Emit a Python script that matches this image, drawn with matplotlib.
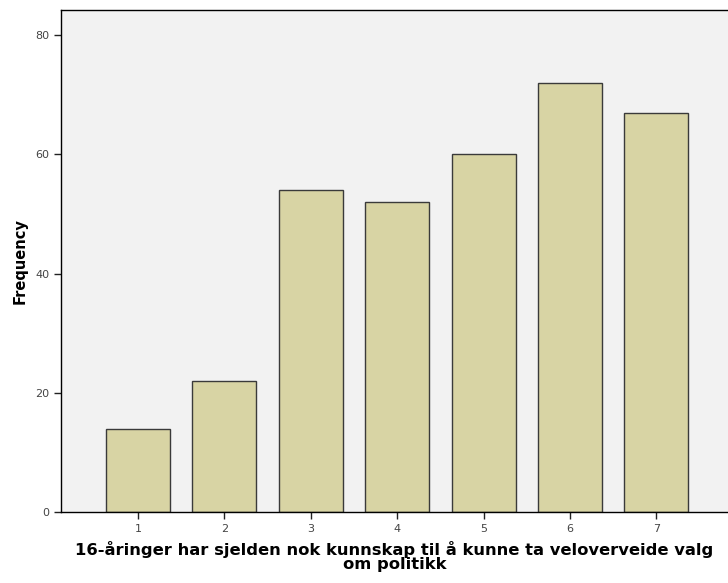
import matplotlib.pyplot as plt

categories = [1, 2, 3, 4, 5, 6, 7]
frequencies = [14, 22, 54, 52, 60, 72, 67]
y_ticks = [0, 20, 40, 60, 80]

fig = plt.figure(figsize=(7.28, 5.83), dpi=100)
ax = fig.add_axes([61 / 728, 71 / 583, 1 - 61 / 728, 502 / 583])
ax.set_facecolor('#f2f2f2')

ax.bar(categories, frequencies, width=0.74, color='#d8d4a4',
       edgecolor='#3a3a3a', linewidth=1.0, zorder=2)

ax.set_xlim(0.108, 7.83)
ax.set_ylim(0, 84.2)
ax.set_xticks(categories)
ax.set_yticks(y_ticks)
ax.tick_params(axis='both', direction='out', length=5, width=1,
               labelsize=8, colors='#222222', labelcolor='#444444')

for side in ['top', 'left', 'bottom']:
    ax.spines[side].set_color('black')
    ax.spines[side].set_linewidth(1.0)
ax.spines['right'].set_visible(False)

ax.set_ylabel('Frequency', fontsize=10.5, fontweight='bold', labelpad=5)
ax.set_xlabel('16-åringer har sjelden nok kunnskap til å kunne ta veloverveide valg\nom politikk',
              fontsize=11.8, fontweight='bold', labelpad=5, linespacing=0.95)

fig.savefig('out.png', dpi=100)
